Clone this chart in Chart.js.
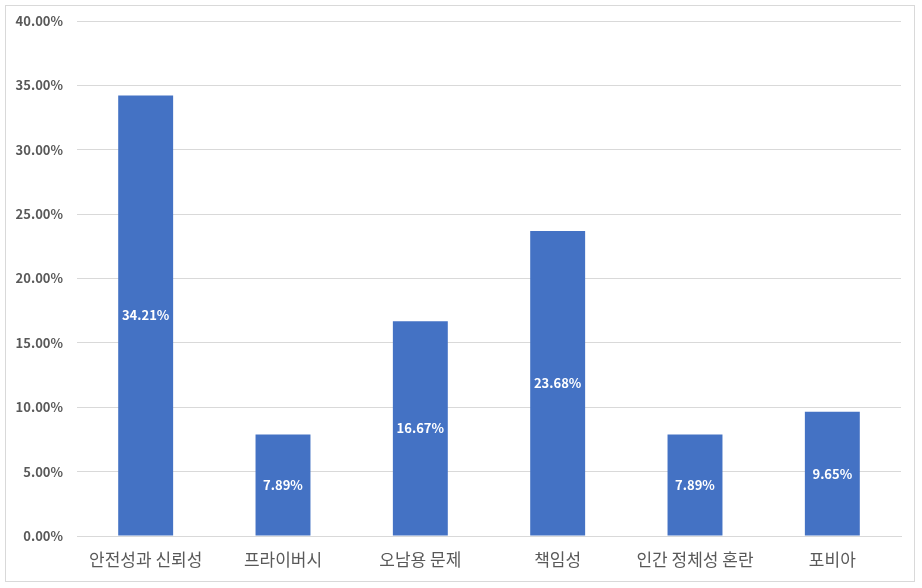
<!DOCTYPE html>
<html>
<head>
<meta charset="utf-8">
<script src="https://cdn.jsdelivr.net/npm/chart.js@4/dist/chart.umd.min.js"></script>
<style>
  html, body { margin: 0; padding: 0; background: #fff; }
  #box {
    position: absolute; left: 5px; top: 5px;
    width: 908px; height: 575px;
    border: 1px solid #d9d9d9;
  }
</style>
</head>
<body>
<div id="box"><canvas id="myChart"></canvas></div>
<script>
var categories = ['안전성과 신뢰성', '프라이버시', '오남용 문제', '책임성', '인간 정체성 혼란', '포비아'];
var shares = [34.21, 7.89, 16.67, 23.68, 7.89, 9.65];
var yTicks = [0, 5, 10, 15, 20, 25, 30, 35, 40];

var FONT = "'Noto Sans CJK KR', 'Noto Sans', sans-serif";

// white value labels in the middle of each bar
var barLabels = {
  id: 'barLabels',
  afterDatasetsDraw: function (chart) {
    var ctx = chart.ctx;
    var meta = chart.getDatasetMeta(0);
    ctx.save();
    ctx.fillStyle = '#ffffff';
    ctx.font = 'bold 13px ' + FONT;
    ctx.textAlign = 'center';
    ctx.textBaseline = 'middle';
    meta.data.forEach(function (bar, i) {
      var mid = (bar.y + bar.base) / 2;
      ctx.fillText(shares[i].toFixed(2) + '%', bar.x, mid);
    });
    ctx.restore();
  }
};

var el = document.getElementById('myChart');
var chart = new Chart(el, {
  type: 'bar',
  data: {
    labels: categories,
    datasets: [{
      data: shares,
      backgroundColor: '#4472C4',
      barPercentage: 0.4,
      categoryPercentage: 1.0
    }]
  },
  options: {
    responsive: true,
    maintainAspectRatio: false,
    animation: false,
    layout: { padding: { top: 15, right: 13, left: 0, bottom: 0 } },
    plugins: {
      legend: { display: false },
      tooltip: { enabled: false }
    },
    scales: {
      x: {
        grid: { display: false, drawTicks: false },
        border: { color: '#d9d9d9' },
        ticks: {
          padding: 13,
          color: '#595959',
          font: { family: FONT, size: 17 }
        },
        afterFit: function (scale) {
          scale.height = 45;
          scale.paddingLeft = 0;
          scale.paddingRight = 0;
        }
      },
      y: {
        min: 0,
        max: 40,
        afterBuildTicks: function (scale) {
          scale.ticks = yTicks.map(function (v) { return { value: v }; });
        },
        grid: { color: '#d9d9d9', drawTicks: false },
        border: { display: false },
        ticks: {
          padding: 14,
          color: '#595959',
          font: { family: FONT, size: 13, weight: 'bold' },
          callback: function (v) { return Number(v).toFixed(2) + '%'; }
        },
        afterFit: function (scale) {
          scale.width = 71;
          scale.paddingTop = 0;
          scale.paddingBottom = 0;
        }
      }
    }
  },
  plugins: [barLabels]
});
</script>
</body>
</html>
